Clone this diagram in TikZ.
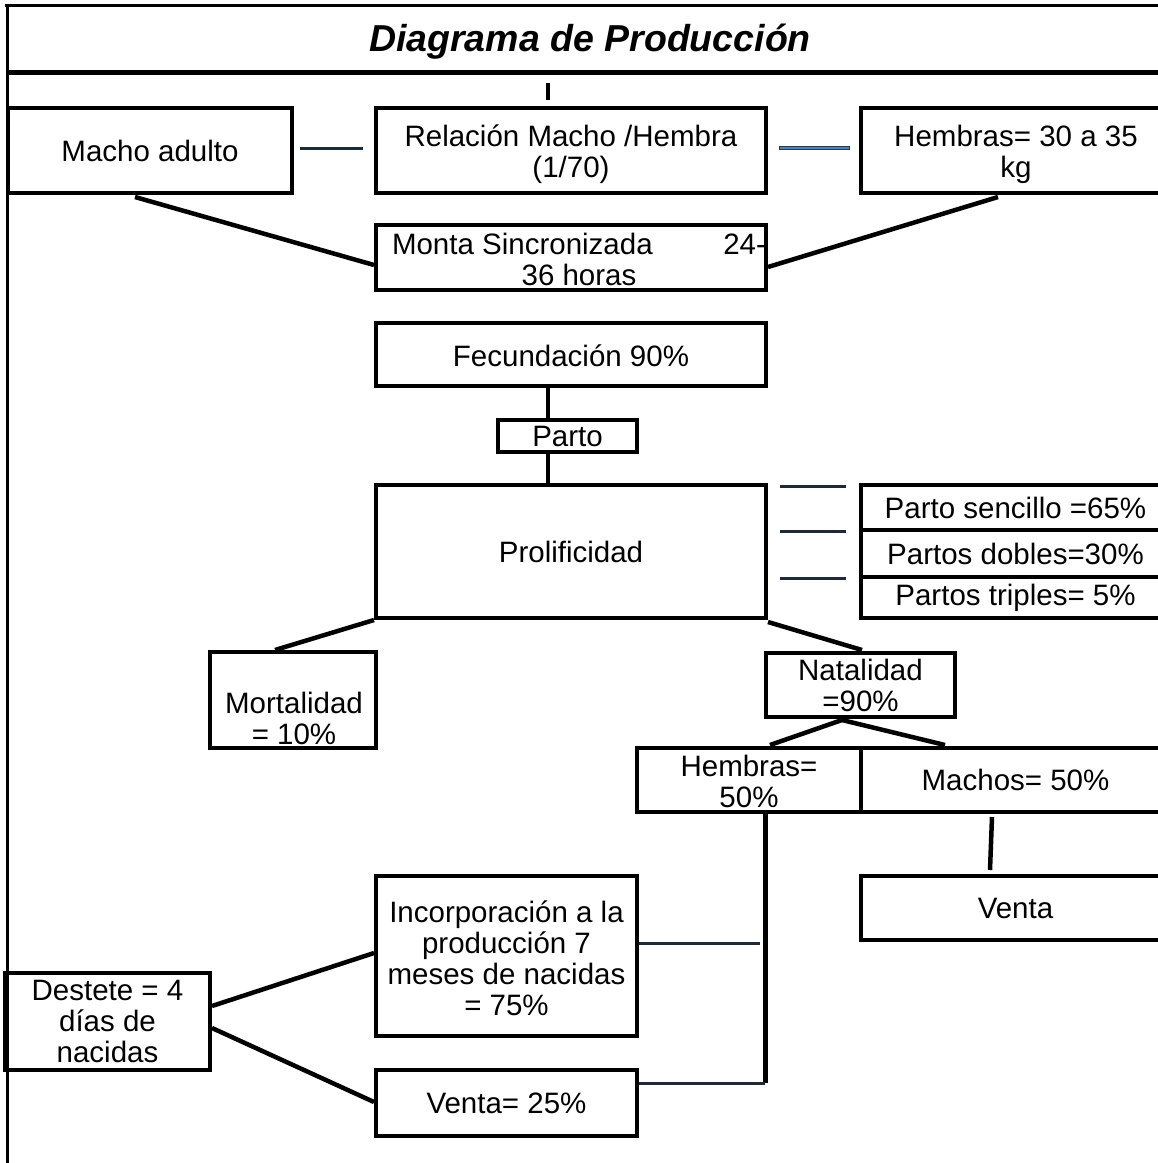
\documentclass[tikz,border=0pt]{standalone}
\usepackage{fontspec}
\setmainfont{Liberation Sans}
\usetikzlibrary{calc}
\definecolor{navyln}{HTML}{1C2A3A}
\definecolor{blueln}{HTML}{4F81BD}
\definecolor{blueedge}{HTML}{2B3A4A}
\begin{document}
\begin{tikzpicture}[x=1pt,y=-1pt,
  boxst/.style={draw=black,line width=4pt,inner sep=0pt,align=center,
    font=\fontsize{29.5}{31}\selectfont},
  txtst/.style={inner sep=0pt,align=center,font=\fontsize{29.5}{31}\selectfont},
  conn/.style={draw=black,line width=4.5pt},
  thinconn/.style={draw=navyln,line width=3pt},
  frame/.style={draw=black,line width=3pt}]
\useasboundingbox (0,0) rectangle (1158,1163);
% frame
\draw[frame] (5,5) -- (1158,5);
\draw[frame] (7,5) -- (7,1163);
\draw[draw=black,line width=5pt] (7,72) -- (1158,72);
\node[inner sep=0pt,font=\fontsize{37.5}{40}\selectfont\bfseries\itshape] (title) at (590,42) {Diagrama de Producción};
% boxes
\node[boxst,minimum width=284pt,minimum height=85pt] (macho) at (150,150.5) {Macho adulto};
\node[boxst,minimum width=390pt,minimum height=85pt] (rel) at (571,150.5) {\rule{0pt}{30pt}Relación Macho /Hembra\\(1/70)};
\node[boxst,minimum width=310pt,minimum height=85pt] (hem) at (1016,150.5) {\rule{0pt}{30pt}Hembras= 30 a 35\\kg};
\node[boxst,minimum width=390pt,minimum height=65pt] (monta) at (571,257.5) {};
\node[txtst] (montatxt) at (579,259) {\makebox[374pt]{Monta Sincronizada\hfill 24-}\\36 horas};
\node[boxst,minimum width=390pt,minimum height=63pt] (fec) at (571,354.5) {\rule{0pt}{25pt}Fecundación 90\%};
\node[boxst,minimum width=139pt,minimum height=32pt] (parto) at (567.5,436) {Parto};
\node[boxst,minimum width=390pt,minimum height=133pt] (prol) at (571,551.5) {Prolificidad};
\node[boxst,minimum width=309pt,minimum height=45pt] (ps1) at (1015.5,507.5) {Parto sencillo =65\%};
\node[boxst,minimum width=309pt,minimum height=47pt] (ps2) at (1015.5,553.5) {Partos dobles=30\%};
\node[boxst,minimum width=309pt,minimum height=41pt] (ps3) at (1015.5,597.5) {Partos triples= 5\%};
\node[boxst,minimum width=166pt,minimum height=96pt] (mort) at (293,700) {};
\node[txtst] (morttxt) at (294,718) {Mortalidad\\= 10\%};
\node[boxst,minimum width=189pt,minimum height=64pt] (nat) at (860.5,685) {Natalidad\\=90\%};
\node[boxst,minimum width=224pt,minimum height=64pt] (hem50) at (749,780) {\rule{0pt}{25pt}Hembras=\\50\%};
\node[boxst,minimum width=309pt,minimum height=64pt] (mach50) at (1015.5,780) {Machos= 50\%};
\node[boxst,minimum width=309pt,minimum height=64pt] (venta) at (1015.5,908) {Venta};
\node[boxst,minimum width=261pt,minimum height=160pt] (incorp) at (506.5,956) {\rule{0pt}{26pt}Incorporación a la\\producción 7\\meses de nacidas\\= 75\%};
\node[boxst,minimum width=261pt,minimum height=66pt] (venta25) at (506.5,1103) {Venta= 25\%};
\node[boxst,minimum width=205pt,minimum height=97pt] (destete) at (107.5,1021.5) {Destete = 4\\días de\\nacidas};
% connectors
\draw[conn] ($(rel.north)+(-23,-6)$) -- ++(0,-17);
\draw[thinconn] ($(macho.east)+(6,-2.5)$) -- ($(rel.west)+(-11,-2.5)$);
\draw[draw=blueedge,line width=4pt] ($(rel.east)+(11,-2.5)$) -- ($(hem.west)+(-9,-2.5)$);
\draw[draw=blueln,line width=2pt] ($(rel.east)+(12,-2.5)$) -- ($(hem.west)+(-10,-2.5)$);
\draw[conn] ($(macho.south)+(-15,2)$) -- ($(monta.west)+(0,7.5)$);
\draw[conn] ($(hem.south)+(-18,2)$) -- ($(monta.east)+(0,9.5)$);
\draw[conn] ($(fec.south)+(-23,0)$) -- ($(parto.north)+(-19.5,0)$);
\draw[conn] ($(parto.south)+(-19.5,0)$) -- ($(prol.north)+(-23,0)$);
\draw[thinconn] ($(prol.north east)+(12,3)$) -- ($(ps1.north west)+(-13,3)$);
\draw[thinconn] ($(prol.east |- ps2.north)+(12,3)$) -- ($(ps2.north west)+(-13,3)$);
\draw[thinconn] ($(prol.east |- ps3.north)+(12,3)$) -- ($(ps3.north west)+(-13,3)$);
\draw[conn] ($(prol.south west)+(0,0)$) -- ($(mort.north)+(-18,0)$);
\draw[conn] ($(prol.south east)+(0,2)$) -- ($(nat.north)+(1.5,-1)$);
\draw[conn] ($(nat.south)+(-18.5,1)$) -- ($(hem50.north)+(21,-1)$);
\draw[conn] ($(nat.south)+(-18.5,1)$) -- ($(mach50.north)+(-70.5,-1)$);
\coordinate (hv) at (765,1083);
\draw[draw=black,line width=5pt] ($(hem50.south)+(16,0)$) -- (hv);
\draw[conn] ($(mach50.south)+(-23.5,3)$) -- ($(venta.north)+(-25.5,-4)$);
\draw[thinconn] ($(incorp.east)+(0,-13)$) -- ($(hv |- incorp.east)+(-5,-13)$);
\draw[thinconn] ($(venta25.east)+(0,-20)$) -- (hv);
\draw[conn] ($(destete.east)+(0,-15.5)$) -- ($(incorp.west)+(0,-3)$);
\draw[conn] ($(destete.east)+(0,6.5)$) -- ($(venta25.west)+(0,-1)$);
\end{tikzpicture}
\end{document}
